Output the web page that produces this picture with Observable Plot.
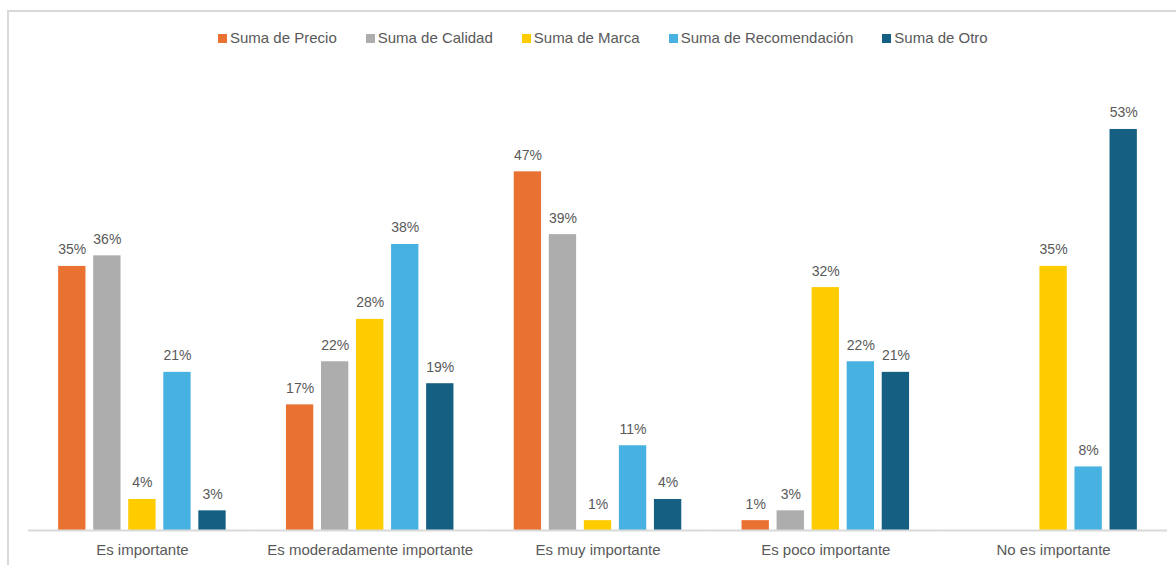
<!DOCTYPE html>
<html>
<head>
<meta charset="utf-8">
<script src="https://cdn.jsdelivr.net/npm/d3@7"></script>
<script src="https://cdn.jsdelivr.net/npm/@observablehq/plot@0.6"></script>
<style>
  html, body { margin: 0; padding: 0; background: #fff; }
  #wrap { position: relative; width: 1176px; height: 565px; overflow: hidden; font-family: "Liberation Sans", Arial, sans-serif; }
  #frame { position: absolute; left: 7px; top: 10px; width: 1300px; height: 700px; border-left: 2px solid #d9d9d9; border-top: 2px solid #d9d9d9; }
  #legend { position: absolute; left: 218px; top: 29px; display: flex; gap: 29px; font-size: 15px; color: #595959; line-height: 18px; white-space: nowrap; }
  #legend .item { display: flex; align-items: center; }
  #legend .sw { width: 9px; height: 9px; margin-right: 3px; }
  #chart { position: absolute; left: 0; top: 0; }
</style>
</head>
<body>
<div id="wrap">
  <div id="frame"></div>
  <div id="legend"></div>
  <div id="chart"></div>
</div>
<script>
const categories = ["Es importante", "Es moderadamente importante", "Es muy importante", "Es poco importante", "No es importante"];
const series = ["Suma de Precio", "Suma de Calidad", "Suma de Marca", "Suma de Recomendación", "Suma de Otro"];
const colors = ["#E97132", "#ADADAD", "#FFCC00", "#47B2E2", "#156082"];

const precio        = [34.9, 16.6, 47.4, 1.3, null];
const calidad       = [36.3, 22.3, 39.1, 2.6, null];
const marca         = [4.1, 27.9, 1.3, 32.1, 34.9];
const recomendacion = [20.9, 37.8, 11.2, 22.3, 8.4];
const otro          = [2.6, 19.4, 4.1, 20.9, 53.0];

const seriesValues = [precio, calidad, marca, recomendacion, otro];

const rows = [];
categories.forEach((cat, i) => {
  series.forEach((s, j) => {
    const v = seriesValues[j][i];
    if (v != null && v > 0) rows.push({category: cat, series: s, value: v});
  });
});

// Legend
const legend = d3.select("#legend");
series.forEach((s, j) => {
  const it = legend.append("div").attr("class", "item");
  it.append("div").attr("class", "sw").style("background", colors[j]);
  it.append("span").text(s);
});

const chart = Plot.plot({
  width: 1176,
  height: 565,
  marginLeft: 28,
  marginRight: 9,
  marginTop: 76,
  marginBottom: 35,
  style: {fontFamily: "Liberation Sans, Arial, sans-serif", background: "transparent", overflow: "visible"},
  fx: {domain: categories, padding: 0, label: null, round: false},
  x: {domain: series, paddingInner: 0.22, paddingOuter: 0.86, axis: null, round: false},
  y: {domain: [0, 60], axis: null},
  color: {domain: series, range: colors},
  marks: [
    Plot.barY(rows, {fx: "category", x: "series", y: "value", fill: "series"}),
    Plot.text(rows, {
      fx: "category", x: "series", y: "value",
      text: d => Math.round(d.value) + "%",
      lineAnchor: "bottom", dy: -12,
      fill: "#595959", fontSize: 14
    }),
    Plot.ruleY([0], {stroke: "#d9d9d9", strokeWidth: 2}),
    Plot.axisFx({anchor: "bottom", tickSize: 0, tickPadding: 14, fontSize: 15, fill: "#595959", label: null})
  ]
});
document.getElementById("chart").appendChild(chart);
</script>
</body>
</html>
